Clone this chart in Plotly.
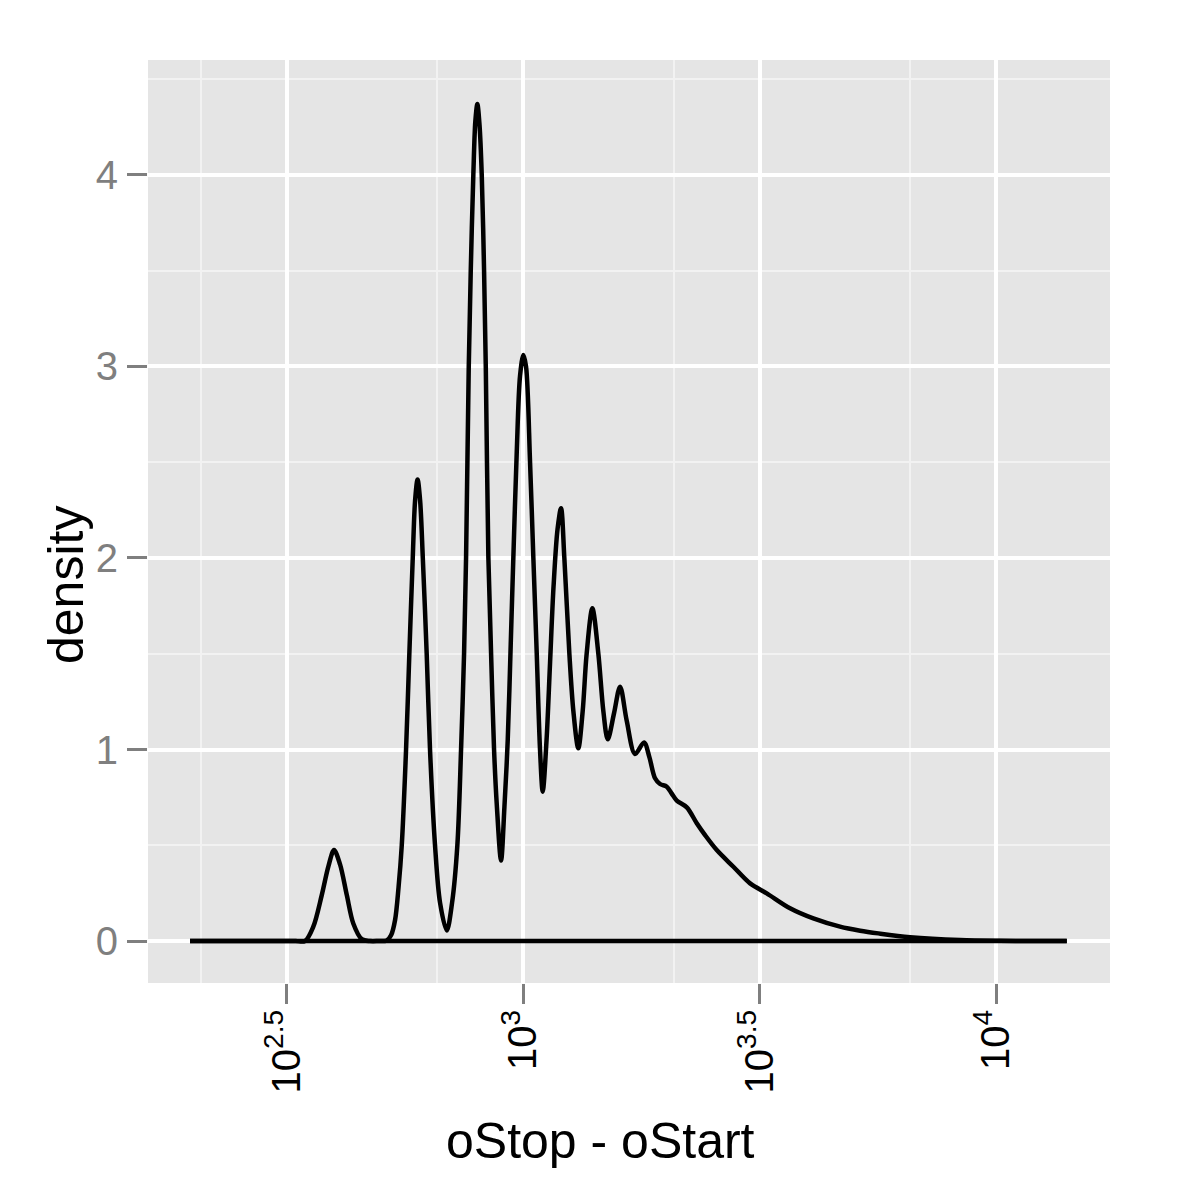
import plotly.graph_objects as go

# Density curve of oStop - oStart (x on log10 scale)
x_vals = [197.2, 250.0, 300.0, 330.0, 345.2, 359.5, 374.6, 386.9, 397.7, 409.5,
          423.2, 437.0, 455.1, 473.9, 492.0, 514.1, 525.0, 535.4, 544.5, 553.1,
          564.8, 573.9, 583.5, 590.2, 597.4, 604.8, 612.8, 624.5, 634.7, 650.4,
          666.5, 688.7, 706.7, 725.1, 738.3, 749.2, 756.5, 766.5, 774.0, 783.8,
          791.5, 799.3, 807.8, 816.6, 825.9, 832.8, 843.4, 854.6, 867.0, 878.5,
          897.1, 912.0, 926.8, 940.4, 952.4, 968.3, 984.0, 1000.0, 1013.2, 1033.2, 1050.0,
          1067.4, 1084.6, 1099.0, 1119.7, 1138.8, 1158.4, 1181.2, 1201.6, 1221.0, 1251.3, 1276.0,
          1306.9, 1335.1, 1361.2, 1399.6, 1441.0, 1476.6, 1508.6, 1555.6, 1601.8, 1654.6,
          1723.0, 1800.0, 1847.6, 1899.4, 1946.3, 2011.0, 2060.4, 2111.3, 2216.8, 2327.3,
          2423.5, 2565.4, 2781.7, 3017.6, 3272.8, 3665.8, 4106.0, 4677.0, 5157.7, 5636.4,
          6578.5, 8393.9, 10197.0, 12000.0, 14111.0]
density = [0.0, 0.0, 0.0, 0.0, 0.0, 0.075, 0.24, 0.39, 0.475, 0.40,
           0.24, 0.09, 0.01, 0.0, 0.0, 0.003, 0.03, 0.11, 0.28, 0.5,
           1.0, 1.5, 2.0, 2.3, 2.41, 2.3, 2.0, 1.5, 1.0, 0.5,
           0.2, 0.055, 0.2, 0.5, 1.0, 1.5, 2.0, 3.0, 3.5, 4.0,
           4.28, 4.37, 4.26, 4.0, 3.5, 3.0, 2.0, 1.5, 1.0, 0.715,
           0.42, 0.7, 1.05, 1.55, 2.0, 2.55, 2.95, 3.06, 3.0, 2.5, 2.0,
           1.5, 1.0, 0.78, 1.05, 1.45, 1.85, 2.15, 2.26, 2.0, 1.5, 1.2,
           1.006, 1.2, 1.5, 1.737, 1.5, 1.2, 1.053, 1.19, 1.328, 1.15,
           0.977, 1.037, 0.96, 0.85, 0.82, 0.806, 0.77, 0.733, 0.698, 0.615,
           0.553, 0.475, 0.388, 0.301, 0.249, 0.171, 0.118, 0.075, 0.054, 0.040,
           0.02, 0.005, 0.001, 0.0, 0.0]

x_tick_vals = [316.2278, 1000, 3162.278, 10000]
x_tick_text = ["10<sup>2.5</sup>", "10<sup>3</sup>", "10<sup>3.5</sup>", "10<sup>4</sup>"]
x_minor_vals = [208.1, 658.1, 2081.1, 6581.1]
y_tick_vals = [0, 1, 2, 3, 4]
y_minor_vals = [0.5, 1.5, 2.5, 3.5, 4.5]

FONT = "Liberation Sans, Arial, sans-serif"

# page body has an 8px margin; size the figure so the plot area lands where it should
W, H = 1192, 1192
L, R, T, B = 140, 90, 52, 217
PW = W - L - R
PH = H - T - B

fig = go.Figure()
fig.add_trace(go.Scatter(
    x=[x_vals[0], x_vals[-1]], y=[0, 0], mode="lines",
    line=dict(color="black", width=4.5), hoverinfo="skip", showlegend=False))
fig.add_trace(go.Scatter(
    x=x_vals, y=density, mode="lines",
    line=dict(color="black", width=4.5, shape="spline", smoothing=0.9),
    showlegend=False))

fig.update_layout(
    width=W, height=H,
    paper_bgcolor="white", plot_bgcolor="#E5E5E5",
    margin=dict(l=L, r=R, t=T, b=B),
    font=dict(family=FONT, color="black"),
    xaxis=dict(
        type="log", range=[2.206, 4.241],
        tickmode="array", tickvals=x_tick_vals, ticktext=x_tick_text,
        tickangle=-90, tickfont=dict(size=40, color="black", family=FONT),
        ticks="outside", ticklen=20, tickwidth=2.5, tickcolor="#7F7F7F",
        ticklabelstandoff=-10,
        showgrid=True, gridcolor="white", gridwidth=3.5,
        minor=dict(tickmode="array", tickvals=x_minor_vals, showgrid=True,
                   gridcolor="#F2F2F2", gridwidth=2, ticks=""),
        zeroline=False, showline=False,
    ),
    yaxis=dict(
        range=[-0.219, 4.60],
        tickmode="array", tickvals=y_tick_vals,
        tickfont=dict(size=40, color="#7F7F7F", family=FONT),
        ticks="outside", ticklen=20, tickwidth=2.5, tickcolor="#7F7F7F",
        ticklabelstandoff=1,
        showgrid=True, gridcolor="white", gridwidth=3.5,
        minor=dict(tickmode="array", tickvals=y_minor_vals, showgrid=True,
                   gridcolor="#F2F2F2", gridwidth=2, ticks=""),
        zeroline=False, showline=False,
    ),
    annotations=[
        dict(text="oStop - oStart", xref="paper", yref="paper",
             x=(600 - 148) / PW, y=-(1141 - 983) / PH,
             xanchor="center", yanchor="middle", showarrow=False,
             font=dict(size=50, color="black", family=FONT)),
        dict(text="density", xref="paper", yref="paper",
             x=-(148 - 66) / PW, y=(983 - 585) / PH,
             xanchor="center", yanchor="middle", textangle=-90, showarrow=False,
             font=dict(size=50, color="black", family=FONT)),
    ],
)

fig.write_html("out.html")
